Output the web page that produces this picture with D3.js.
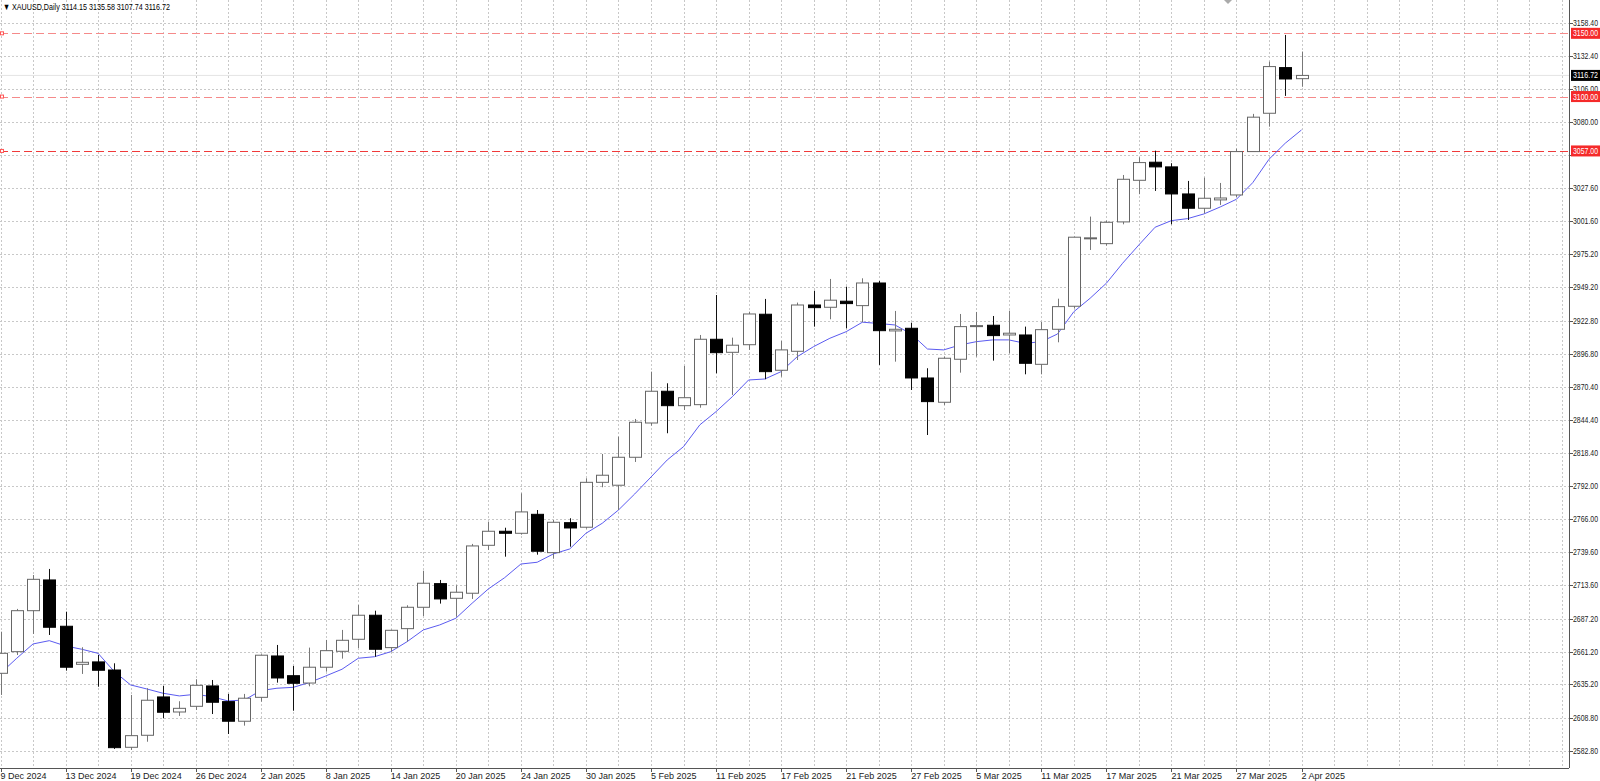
<!DOCTYPE html>
<html>
<head>
<meta charset="utf-8">
<script src="https://cdn.jsdelivr.net/npm/d3@7"></script>
<style>
body { margin: 0; background: #fff; overflow: hidden; }
text { font-family: "Liberation Sans", Arial, sans-serif; font-size: 9px; }
</style>
</head>
<body>
<script>
var W = 1600, H = 781;
var plotRight = 1569, axisY = 768;

// daily OHLC, 9 Dec 2024 .. 2 Apr 2025
var opens = [2644.0,2661.1,2693.5,2717.8,2681.2,2651.1,2653.0,2646.6,2585.5,2595.0,
  2625.3,2613.4,2617.9,2634.0,2621.6,2606.1,2625.0,2657.7,2642.1,2636.3,
  2648.8,2661.4,2670.9,2689.9,2664.3,2679.3,2696.2,2714.9,2703.3,2707.3,
  2745.2,2756.3,2754.7,2769.7,2739.4,2763.1,2759.5,2795.0,2792.7,2814.8,
  2841.9,2867.0,2855.6,2856.4,2908.1,2897.8,2903.8,2927.9,2883.6,2898.6,
  2935.2,2933.4,2938.2,2934.7,2952.6,2914.7,2916.8,2877.5,2858.3,2892.3,
  2918.1,2919.2,2911.5,2911.5,2888.3,2916.0,2934.2,2988.0,2983.7,3000.9,
  3033.8,3048.1,3044.4,3023.0,3011.7,3018.3,3022.2,3056.5,3086.8,3122.9,3114.15];
var highs = [2676.9,2694.9,2721.7,2726.5,2692.7,2664.6,2658.5,2651.9,2626.9,2632.2,
  2634.0,2621.9,2639.3,2638.7,2627.7,2627.7,2659.0,2666.4,2649.8,2664.3,
  2670.4,2678.3,2698.0,2693.5,2678.5,2697.8,2725.1,2717.8,2713.6,2746.3,
  2763.6,2759.1,2786.3,2773.1,2765.2,2766.6,2798.2,2817.4,2831.1,2845.1,
  2882.5,2873.3,2887.0,2911.5,2943.1,2909.4,2929.9,2940.0,2906.8,2937.1,
  2946.5,2955.8,2949.7,2956.3,2954.2,2930.5,2921.2,2885.2,2894.4,2928.1,
  2929.7,2926.5,2930.7,2918.1,2921.8,2940.2,2989.3,3005.1,3001.9,3038.0,
  3052.0,3057.2,3047.3,3033.3,3035.9,3031.7,3058.8,3086.3,3127.6,3148.7,3135.58];
var lows = [2626.9,2658.5,2675.1,2674.3,2646.1,2643.5,2633.4,2584.2,2583.4,2589.9,
  2608.4,2610.3,2615.0,2611.8,2596.0,2602.6,2621.6,2636.6,2614.4,2633.7,
  2645.3,2655.6,2664.0,2657.1,2661.1,2669.0,2689.3,2699.1,2688.8,2702.8,
  2741.5,2736.2,2753.6,2737.8,2734.6,2744.1,2758.4,2791.1,2773.1,2811.1,
  2839.8,2833.8,2852.2,2854.0,2881.2,2864.1,2899.7,2876.5,2878.5,2891.7,
  2918.1,2923.9,2916.8,2921.6,2887.8,2890.4,2868.0,2832.4,2856.2,2881.7,
  2894.4,2891.2,2897.0,2880.4,2880.4,2905.7,2932.6,2978.7,2982.1,2999.0,
  3022.8,3025.4,2999.0,3002.4,3007.7,3014.3,3020.6,3056.2,3076.2,3100.5,3107.74];
var closes = [2659.8,2693.5,2718.3,2680.4,2648.8,2652.7,2646.4,2585.2,2594.7,2622.7,
  2613.2,2616.3,2634.5,2621.1,2606.1,2624.3,2658.3,2640.3,2636.1,2648.8,
  2661.9,2670.1,2689.9,2663.0,2678.0,2696.2,2715.2,2702.8,2708.1,2744.7,
  2756.3,2754.7,2771.6,2740.5,2763.4,2758.9,2795.0,2800.6,2814.8,2842.5,
  2867.0,2855.6,2861.9,2908.1,2897.5,2903.4,2928.1,2882.5,2899.7,2935.2,
  2933.1,2939.0,2936.3,2952.6,2914.9,2916.0,2877.5,2858.8,2893.1,2918.1,
  2918.9,2911.0,2912.9,2889.1,2915.7,2933.9,2988.8,2988.3,3000.6,3034.6,
  3047.8,3044.4,3023.0,3011.7,3019.6,3019.8,3056.5,3083.7,3123.7,3113.9,3116.72];
// moving average line as drawn on the chart
var maValues = [2644.0,2655.9,2667.2,2669.8,2665.6,2663.0,2659.8,2645.3,2634.8,2631.6,
  2628.2,2626.1,2627.4,2625.5,2622.1,2622.9,2630.3,2632.2,2632.9,2636.7,
  2641.9,2647.2,2655.9,2657.1,2661.1,2669.0,2678.3,2682.2,2687.5,2699.4,
  2710.7,2719.6,2730.4,2731.8,2738.4,2742.3,2754.7,2762.6,2773.1,2785.8,
  2799.2,2812.7,2823.2,2840.4,2850.9,2862.7,2875.9,2876.7,2882.5,2894.4,
  2902.3,2908.9,2914.1,2921.6,2920.6,2919.4,2912.3,2900.4,2899.7,2903.6,
  2906.2,2907.6,2907.6,2904.9,2906.2,2912.3,2929.9,2940.5,2952.4,2968.2,
  2982.7,2996.7,3001.9,3003.5,3007.2,3012.7,3018.8,3031.9,3050.4,3063.1,3073.6];

var dateLabels = ["9 Dec 2024","13 Dec 2024","19 Dec 2024","26 Dec 2024","2 Jan 2025",
  "8 Jan 2025","14 Jan 2025","20 Jan 2025","24 Jan 2025","30 Jan 2025","5 Feb 2025",
  "11 Feb 2025","17 Feb 2025","21 Feb 2025","27 Feb 2025","5 Mar 2025","11 Mar 2025",
  "17 Mar 2025","21 Mar 2025","27 Mar 2025","2 Apr 2025"];
var priceTicks = [2582.80,2608.80,2635.20,2661.20,2687.20,2713.60,2739.60,2766.00,2792.00,
  2818.40,2844.40,2870.40,2896.80,2922.80,2949.20,2975.20,3001.60,3027.60,3053.80,
  3080.00,3106.00,3132.40,3158.40];
var levels = [3150.00, 3100.00, 3057.00];
var lastPrice = 3116.72;

var x = d3.scaleLinear().domain([0, 80]).range([0.5, 1301.5]);
var y = d3.scaleLinear().domain([2582.8, 3158.4]).range([750.7, 22.7]);

var svg = d3.select("body").append("svg").attr("width", W).attr("height", H);

svg.append("defs").append("clipPath").attr("id", "clip")
  .append("rect").attr("x", 0).attr("y", 0).attr("width", plotRight).attr("height", axisY);
var plot = svg.append("g").attr("clip-path", "url(#clip)");

// grid
var vIdx = d3.range(0, 97, 2);
plot.selectAll(".vg").data(vIdx).enter().append("line")
  .attr("x1", d => Math.round(x(d)) + 0.5).attr("x2", d => Math.round(x(d)) + 0.5)
  .attr("y1", 0).attr("y2", axisY)
  .attr("stroke", "#c8c8c8").attr("stroke-dasharray", "2,2");
plot.selectAll(".hg").data(priceTicks).enter().append("line")
  .attr("x1", 0).attr("x2", plotRight)
  .attr("y1", d => Math.round(y(d)) + 0.5).attr("y2", d => Math.round(y(d)) + 0.5)
  .attr("stroke", "#c8c8c8").attr("stroke-dasharray", "2,2");

// last price line
plot.append("line").attr("x1", 0).attr("x2", plotRight)
  .attr("y1", y(lastPrice)).attr("y2", y(lastPrice))
  .attr("stroke", "#e4e4e4").attr("stroke-width", 1);

// level lines
plot.selectAll(".lvl").data(levels).enter().append("line")
  .attr("x1", 0).attr("x2", plotRight)
  .attr("y1", d => Math.round(y(d)) + 0.5).attr("y2", d => Math.round(y(d)) + 0.5)
  .attr("stroke", (d, i) => i == 2 ? "#f03a3a" : "#f58a8a")
  .attr("stroke-width", (d, i) => i == 2 ? 1.2 : 1)
  .attr("stroke-dasharray", "8,4");

// moving average
plot.append("path").datum(maValues)
  .attr("fill", "none").attr("stroke", "#5b5bf0").attr("stroke-width", 1)
  .attr("d", d3.line().x((d, i) => x(i)).y(d => y(d)));

// candles
var idx = d3.range(opens.length);
var c = plot.selectAll(".c").data(idx).enter().append("g");
c.append("line")
  .attr("x1", i => Math.round(x(i)) + 0.5).attr("x2", i => Math.round(x(i)) + 0.5)
  .attr("y1", i => y(highs[i])).attr("y2", i => y(lows[i]))
  .attr("stroke", i => closes[i] >= opens[i] ? "#777" : "#111");
c.append("rect")
  .attr("x", i => Math.round(x(i)) - 5.5).attr("width", 12)
  .attr("y", i => y(Math.max(opens[i], closes[i])))
  .attr("height", i => Math.max(1, Math.abs(y(opens[i]) - y(closes[i]))))
  .attr("fill", i => closes[i] >= opens[i] ? "#fff" : "#000")
  .attr("stroke", i => closes[i] >= opens[i] ? "#666" : "#000");

// axes frame
svg.append("line").attr("x1", plotRight + 0.5).attr("x2", plotRight + 0.5)
  .attr("y1", 0).attr("y2", axisY).attr("stroke", "#555");
svg.append("line").attr("x1", 0).attr("x2", plotRight)
  .attr("y1", axisY + 0.5).attr("y2", axisY + 0.5).attr("stroke", "#555");

// price axis; labels hidden behind a level tag are skipped
var tagged = levels.concat([lastPrice]);
var shown = priceTicks.filter(p => !tagged.some(v => Math.abs(y(v) - y(p)) < 6));
var pa = svg.append("g");
pa.selectAll(".pt").data(priceTicks).enter().append("line")
  .attr("x1", plotRight).attr("x2", plotRight + 4)
  .attr("y1", d => Math.round(y(d)) + 0.5).attr("y2", d => Math.round(y(d)) + 0.5)
  .attr("stroke", "#555");
pa.selectAll(".pl").data(shown).enter().append("text")
  .attr("x", plotRight + 4).attr("y", d => y(d) + 3)
  .attr("textLength", 25).attr("lengthAdjust", "spacingAndGlyphs")
  .attr("fill", "#222").text(d => d.toFixed(2));

// level tags
function tag(v, fill) {
  svg.append("rect").attr("x", plotRight + 2).attr("y", y(v) - 5.5).attr("width", 29).attr("height", 11)
    .attr("fill", fill);
  svg.append("text").attr("x", plotRight + 4).attr("y", y(v) + 3)
    .attr("textLength", 25).attr("lengthAdjust", "spacingAndGlyphs")
    .attr("fill", "#fff").text(v.toFixed(2));
}
levels.forEach(function(v) {
  tag(v, "#f52a2a");
  svg.append("rect").attr("x", 0.5).attr("y", y(v) - 1.5).attr("width", 3).attr("height", 3)
    .attr("fill", "#fff").attr("stroke", "#f55");
});
tag(lastPrice, "#000");

// date axis
var da = svg.append("g");
da.selectAll(".dt").data(dateLabels).enter().append("line")
  .attr("x1", (d, j) => Math.round(x(j * 4)) + 0.5).attr("x2", (d, j) => Math.round(x(j * 4)) + 0.5)
  .attr("y1", axisY).attr("y2", axisY + 4).attr("stroke", "#555");
da.selectAll(".dl").data(dateLabels).enter().append("text")
  .attr("x", (d, j) => x(j * 4)).attr("y", axisY + 11)
  .attr("font-size", "8.5px")
  .attr("fill", "#222").text(d => d);

// title
svg.append("text").attr("x", 3).attr("y", 10).attr("fill", "#000").attr("font-size", "8.5px")
  .attr("textLength", 167).attr("lengthAdjust", "spacingAndGlyphs")
  .text("\u25BC XAUUSD,Daily  " + [opens[80], highs[80], lows[80], closes[80]].map(d => d.toFixed(2)).join(" "));
// small marker at top
svg.append("path").attr("d", "M1224,0 L1232,0 L1228,4 Z").attr("fill", "#aaa");
</script>
</body>
</html>
